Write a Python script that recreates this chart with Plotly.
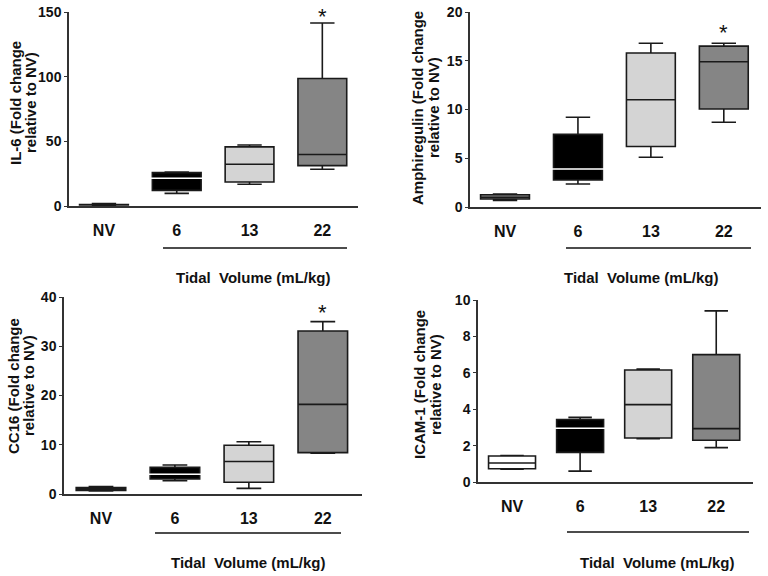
import plotly.graph_objects as go

GROUPS = ["NV", "6", "13", "22"]
FILLS = ["#8c8c8c", "#000000", "#d4d4d4", "#858585"]
FILLS_ICAM = ["#ffffff", "#000000", "#d4d4d4", "#858585"]

# IL-6
il6_min = [0.5, 9.8, 16.8, 28.4]
il6_q1 = [0.8, 12.1, 18.6, 31.2]
il6_med = [1.0, 21.4, 32.3, 39.8]
il6_q3 = [1.2, 25.8, 45.7, 98.6]
il6_max = [1.8, 26.3, 47.2, 141.5]

# Amphiregulin
amph_min = [0.68, 2.36, 5.1, 8.7]
amph_q1 = [0.82, 2.77, 6.2, 10.05]
amph_med = [1.0, 3.9, 11.0, 14.9]
amph_q3 = [1.26, 7.45, 15.8, 16.5]
amph_max = [1.33, 9.2, 16.8, 16.8]

# CC16
cc16_min = [0.6, 2.7, 1.15, 8.3]
cc16_q1 = [0.7, 3.05, 2.4, 8.4]
cc16_med = [1.0, 4.0, 6.6, 18.2]
cc16_q3 = [1.3, 5.4, 9.9, 33.1]
cc16_max = [1.5, 5.9, 10.6, 35.0]

# ICAM-1
icam_min = [0.70, 0.6, 2.38, 1.89]
icam_q1 = [0.73, 1.63, 2.42, 2.29]
icam_med = [1.04, 2.95, 4.25, 2.93]
icam_q3 = [1.43, 3.43, 6.15, 7.0]
icam_max = [1.45, 3.55, 6.2, 9.4]

FONT = "Liberation Sans, Arial, sans-serif"
W, H = 768, 576

panels = [
    dict(title=("IL-6 (Fold change", "relative to NV)"), stats=(il6_min, il6_q1, il6_med, il6_q3, il6_max),
         fills=FILLS, yrange=[0, 150], dtick=50, xpx=(69, 358), ypx=(12, 206), xr=[-0.48, 3.49],
         star=6, line=(163, 347, 248), ttl=(253, 277), ytl=(16, 31, 103), width=0.67),
    dict(title=("Amphiregulin (Fold change", "relative to NV)"), stats=(amph_min, amph_q1, amph_med, amph_q3, amph_max),
         fills=FILLS, yrange=[0, 20], dtick=5, xpx=(470, 761), ypx=(12, 207), xr=[-0.48, 3.51],
         star=11, line=(566, 751, 248), ttl=(641, 277), ytl=(417, 433, 108), width=0.67),
    dict(title=("CC16 (Fold change", "relative to NV)"), stats=(cc16_min, cc16_q1, cc16_med, cc16_q3, cc16_max),
         fills=FILLS, yrange=[0, 40], dtick=10, xpx=(64, 362), ypx=(297, 494), xr=[-0.5, 3.53],
         star=9, line=(155, 341, 533), ttl=(248, 562), ytl=(13, 28, 386), width=0.67),
    dict(title=("ICAM-1 (Fold change", "relative to NV)"), stats=(icam_min, icam_q1, icam_med, icam_q3, icam_max),
         fills=FILLS_ICAM, yrange=[0, 10], dtick=2, xpx=(478, 753), ypx=(300, 482), xr=[-0.5, 3.54],
         star=None, line=(567, 749, 532), ttl=(657, 562), ytl=(419, 435, 385), width=0.69),
]

fig = go.Figure()
shapes, annots = [], []

for i, p in enumerate(panels):
    n = "" if i == 0 else str(i + 1)
    xa, ya = "x" + n, "y" + n
    lo, q1, med, q3, hi = p["stats"]
    for k, g in enumerate(GROUPS):
        fig.add_trace(go.Box(
            x=[g], lowerfence=[lo[k]], q1=[q1[k]], median=[med[k]], q3=[q3[k]], upperfence=[hi[k]],
            fillcolor=p["fills"][k], line=dict(color="#1a1a1a", width=1.6),
            width=p["width"], whiskerwidth=0.5, boxpoints=False, hoverinfo="skip",
            xaxis=xa, yaxis=ya, showlegend=False,
        ))
    # white median line on the black 6 mL/kg box
    fig.add_trace(go.Scatter(
        x=[GROUPS[1]], y=[med[1]], mode="markers", xaxis=xa, yaxis=ya, showlegend=False,
        marker=dict(symbol="line-ew", size=44, line=dict(color="white", width=1.5)), hoverinfo="skip",
    ))
    if p["star"] is not None:
        # category axis: position by index of the "22" group
        annots.append(dict(x=GROUPS.index("22"), y=hi[3], xref=xa, yref=ya, text="*", showarrow=False,
                           yanchor="middle", yshift=p["star"], font=dict(size=22, family=FONT, color="#111")))

    x0, x1 = p["xpx"]
    y0, y1 = p["ypx"]
    fig.update_layout(**{
        "xaxis" + n: dict(domain=[x0 / W, x1 / W], anchor=ya, type="category", categoryorder="array",
                          categoryarray=GROUPS, range=p["xr"], showline=True, linecolor="#333", linewidth=1.5,
                          ticks="", showgrid=False, zeroline=False, ticklabelstandoff=9, automargin=False,
                          tickfont=dict(family=FONT, size=16, color="#111", weight="bold")),
        "yaxis" + n: dict(domain=[1 - y1 / H, 1 - y0 / H], anchor=xa, range=p["yrange"], dtick=p["dtick"],
                          showline=True, linecolor="#333", linewidth=1.5, ticks="outside", ticklen=3,
                          tickwidth=1.2, tickcolor="#333", showgrid=False, zeroline=False, automargin=False,
                          tickfont=dict(family=FONT, size=14, color="#111", weight="bold")),
    })
    # y-axis title: two rotated lines, placed one by one for tight spacing
    xl1, xl2, yc = p["ytl"]
    for txt, xc in zip(p["title"], (xl1, xl2)):
        annots.append(dict(x=xc / W, y=1 - yc / H, xref="paper", yref="paper", showarrow=False,
                           text=txt, textangle=-90, xanchor="center", yanchor="middle",
                           font=dict(family=FONT, size=15, color="#111", weight="bold")))
    lx0, lx1, ly = p["line"]
    shapes.append(dict(type="line", xref="paper", yref="paper", x0=lx0 / W, x1=lx1 / W,
                       y0=1 - ly / H, y1=1 - ly / H, line=dict(color="#111", width=1.5)))
    tx, ty = p["ttl"]
    annots.append(dict(x=tx / W, y=1 - ty / H, xref="paper", yref="paper", showarrow=False,
                       text="Tidal\u00a0 Volume (mL/kg)", xanchor="center", yanchor="middle",
                       font=dict(family=FONT, size=15, color="#111", weight="bold")))

fig.update_layout(
    width=W, height=H, margin=dict(l=0, r=0, t=0, b=0),
    paper_bgcolor="white", plot_bgcolor="white",
    shapes=shapes, annotations=annots, showlegend=False,
)

fig.write_html("out.html", config={"displayModeBar": False},
               post_script="document.body.style.margin = '0';")
